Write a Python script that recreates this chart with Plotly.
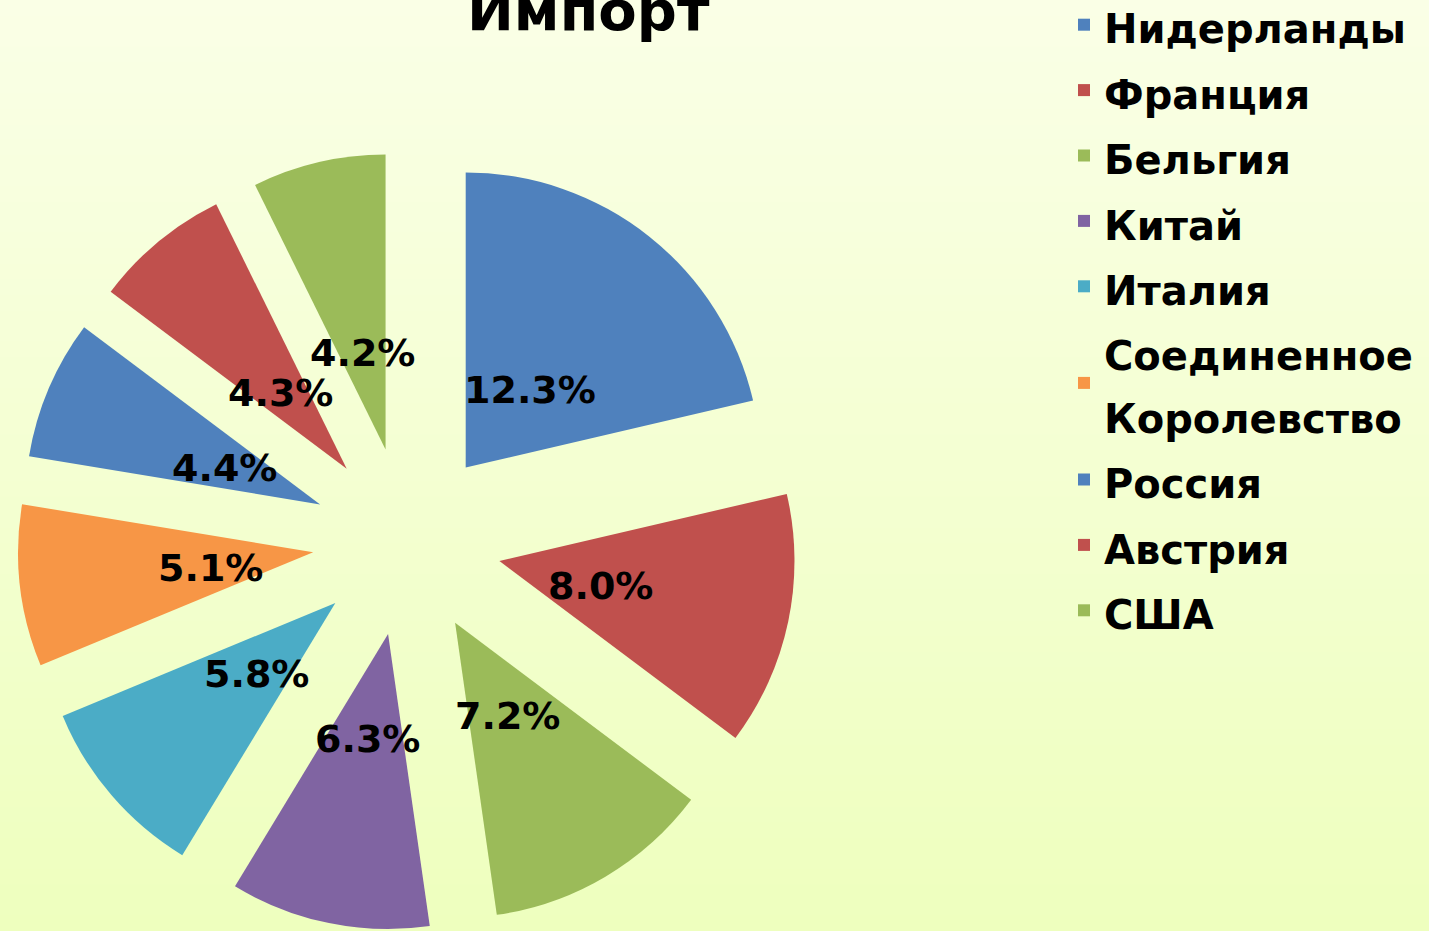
import math
import plotly.graph_objects as go

countries = ["Нидерланды", "Франция", "Бельгия", "Китай", "Италия",
             "Соединенное<br>Королевство", "Россия", "Австрия", "США"]
shares = [12.3, 8.0, 7.2, 6.3, 5.8, 5.1, 4.4, 4.3, 4.2]
colors = ["#4F81BD", "#C0504D", "#9BBB59", "#8064A2", "#4BACC6",
          "#F79646", "#4F81BD", "#C0504D", "#9BBB59"]
title_text = "Импорт"

W, H = 1429, 931
FONT = "DejaVu Sans"
PULL = 0.32
# pie box (pixels)
BOX_Y0, BOX_Y1 = 152.0, 931.0
CX = 407.0
HALF = (BOX_Y1 - BOX_Y0) / 2
BOX_X0, BOX_X1 = CX - HALF, CX + HALF
LABEL_R = 198  # distance of value labels from pie centre, px
LABEL_DY = 4   # small vertical text-box correction, px

fig = go.Figure()
fig.add_trace(go.Pie(
    labels=[f'<span style="font-size:40px">{c}</span>' for c in countries],
    values=shares,
    sort=False,
    direction="clockwise",
    rotation=0,
    pull=PULL,
    marker=dict(colors=colors, line=dict(width=0)),
    textinfo="none",
    domain=dict(x=[BOX_X0 / W, BOX_X1 / W],
                y=[max(0.0, 1 - BOX_Y1 / H), 1 - BOX_Y0 / H]),
    hoverinfo="label+value",
))

# value labels placed along each slice's mid-angle (derived from the data)
annotations = []
cx = (BOX_X0 + BOX_X1) / 2
cy = (BOX_Y0 + BOX_Y1) / 2
total = sum(shares)
cum = 0.0
for v in shares:
    mid = (cum + v / 2) / total * 2 * math.pi
    cum += v
    px = cx + LABEL_R * math.sin(mid)
    py = cy - LABEL_R * math.cos(mid) + LABEL_DY
    annotations.append(dict(text=f"{v:.1f}%", x=px / W, y=1 - py / H,
                            xref="paper", yref="paper", xanchor="center",
                            yanchor="middle", showarrow=False,
                            font=dict(family=FONT, size=38, color="black",
                                      weight="bold")))

annotations.append(dict(text=title_text, x=588 / W, y=1 - 45 / H,
                        xref="paper", yref="paper", xanchor="center",
                        yanchor="bottom", showarrow=False,
                        font=dict(family=FONT, size=56, color="black",
                                  weight="bold")))

# vertical gradient background
shapes = []
n = 60
top = (250, 255, 230)
bot = (238, 255, 190)
for i in range(n):
    t = i / (n - 1)
    c = tuple(round(top[k] + (bot[k] - top[k]) * t) for k in range(3))
    shapes.append(dict(type="rect", xref="paper", yref="paper",
                       x0=0, x1=1, y0=1 - (i + 1) / n - 0.001, y1=1 - i / n,
                       fillcolor="rgb(%d,%d,%d)" % c, line=dict(width=0),
                       layer="below"))

fig.update_layout(
    width=W, height=H,
    margin=dict(l=0, r=0, t=0, b=0, autoexpand=False),
    paper_bgcolor="rgb(245,255,215)",
    plot_bgcolor="rgba(0,0,0,0)",
    shapes=shapes,
    annotations=annotations,
    showlegend=True,
    legend=dict(x=1064 / W, xanchor="left", y=1 + 13 / H, yanchor="top",
                maxheight=H,
                font=dict(family=FONT, size=48, color="black", weight="bold"),
                bgcolor="rgba(0,0,0,0)", itemclick=False),
)

fig.write_html("out.html",
               config={"displayModeBar": False},
               post_script="document.body.style.margin='0';"
                           "document.body.style.background='rgb(245,255,215)';")
